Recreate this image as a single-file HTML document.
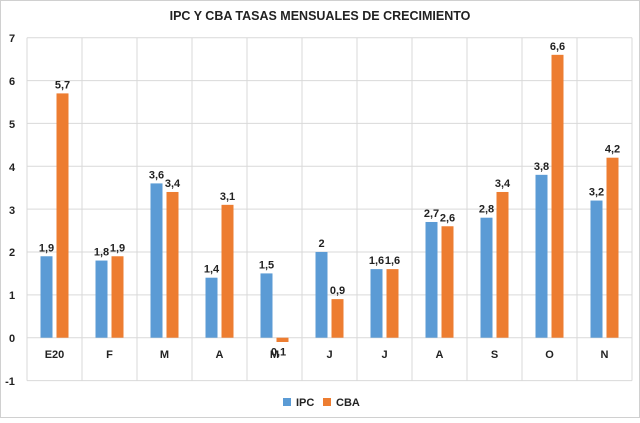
<!DOCTYPE html>
<html><head><style>body{margin:0;background:#fff}</style></head><body>
<svg width="640" height="418" xmlns="http://www.w3.org/2000/svg" font-family="Liberation Sans, sans-serif">
<rect x="0.5" y="0.5" width="639" height="417" fill="#fff" stroke="#d0d0d0"/>
<text x="320" y="20" text-anchor="middle" font-size="12.5" font-weight="bold" fill="#222">IPC Y CBA TASAS  MENSUALES  DE CRECIMIENTO</text>
<g stroke="#d9d9d9" stroke-width="1">
<line x1="27" y1="37.7" x2="632" y2="37.7"/><line x1="27" y1="80.6" x2="632" y2="80.6"/><line x1="27" y1="123.4" x2="632" y2="123.4"/><line x1="27" y1="166.3" x2="632" y2="166.3"/><line x1="27" y1="209.1" x2="632" y2="209.1"/><line x1="27" y1="252" x2="632" y2="252"/><line x1="27" y1="294.9" x2="632" y2="294.9"/><line x1="27" y1="337.7" x2="632" y2="337.7"/><line x1="27" y1="380.6" x2="632" y2="380.6"/>
<line x1="27" y1="37.7" x2="27" y2="380.6"/><line x1="82" y1="37.7" x2="82" y2="380.6"/><line x1="137" y1="37.7" x2="137" y2="380.6"/><line x1="192" y1="37.7" x2="192" y2="380.6"/><line x1="247" y1="37.7" x2="247" y2="380.6"/><line x1="302" y1="37.7" x2="302" y2="380.6"/><line x1="357" y1="37.7" x2="357" y2="380.6"/><line x1="412" y1="37.7" x2="412" y2="380.6"/><line x1="467" y1="37.7" x2="467" y2="380.6"/><line x1="522" y1="37.7" x2="522" y2="380.6"/><line x1="577" y1="37.7" x2="577" y2="380.6"/><line x1="632" y1="37.7" x2="632" y2="380.6"/>
</g>
<g font-size="11" font-weight="bold" fill="#222" text-anchor="middle">
<text x="12" y="42">7</text><text x="12" y="85">6</text><text x="12" y="128">5</text><text x="12" y="171">4</text><text x="12" y="214">3</text><text x="12" y="256">2</text><text x="12" y="299">1</text><text x="12" y="342">0</text><text x="10" y="385">-1</text>
</g>
<g id="bars"></g>
<g font-size="11" font-weight="bold" fill="#222" text-anchor="middle" id="labels"></g>
<rect x="283" y="398" width="8" height="8" fill="#5b9bd5"/><text x="296" y="406" font-size="11" font-weight="bold" fill="#222">IPC</text>
<rect x="323" y="398" width="8" height="8" fill="#ed7d31"/><text x="336" y="406" font-size="11" font-weight="bold" fill="#222">CBA</text>
<script>
var cats=["E20","F","M","A","M","J","J","A","S","O","N"];
var ipc=[1.9,1.8,3.6,1.4,1.5,2,1.6,2.7,2.8,3.8,3.2];
var cba=[5.7,1.9,3.4,3.1,-0.1,0.9,1.6,2.6,3.4,6.6,4.2];
var ns="http://www.w3.org/2000/svg",b=document.getElementById("bars"),l=document.getElementById("labels");
function Y(v){return 337.7-v*42.86}
function f(v){if(v<0)return "0,1";return String(v).replace(".",",")}
function r(x,v,c){var e=document.createElementNS(ns,"rect");var y1=Math.min(Y(v),Y(0)),h=Math.abs(Y(v)-Y(0));e.setAttribute("x",x);e.setAttribute("y",y1);e.setAttribute("width",12);e.setAttribute("height",h);e.setAttribute("fill",c);b.appendChild(e)}
function t(x,y,s){var e=document.createElementNS(ns,"text");e.setAttribute("x",x);e.setAttribute("y",y);e.textContent=s;l.appendChild(e)}
for(var i=0;i<11;i++){var c=27+55*i+27.5;
r(c-14,ipc[i],"#5b9bd5");r(c+2,cba[i],"#ed7d31");
t(c,358,cats[i]);
var yi=Y(ipc[i])-5,yc=cba[i]<0?Y(0)+18:Y(cba[i])-5;
t(c-8,yi,f(ipc[i]));t(cba[i]<0?c+4:c+8,yc,f(cba[i]));}
</script>
</svg>
</body></html>
